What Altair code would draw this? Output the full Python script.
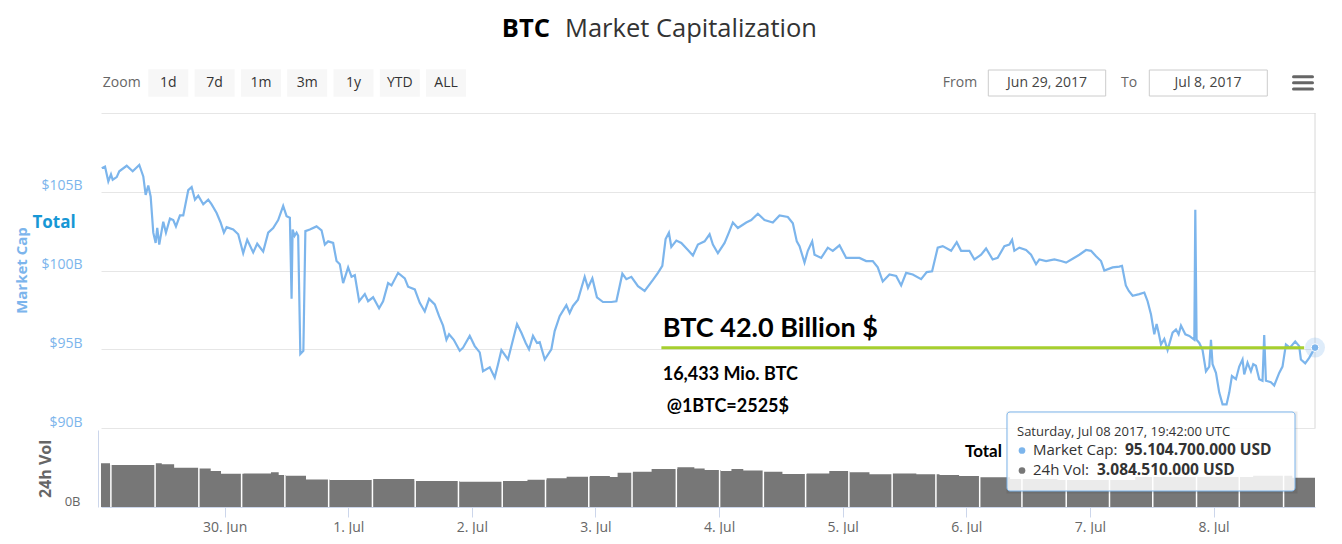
import altair as alt
import pandas as pd

START = pd.Timestamp("2017-06-29 00:00:00")

# ---- market cap series (hours since 29 Jun 00:00, value in $B) ----
mc_hours = [0.14, 0.78, 1.42, 1.94, 2.27, 3.05, 3.55, 4.99, 6.15, 7.43, 8.21, 8.67, 9.18, 9.64, 10.15,
            10.61, 10.92, 11.31, 12.09, 12.61, 13.39, 14.03, 14.55, 15.33, 15.97, 16.94, 17.6, 18.24,
            18.88, 19.85, 20.82, 21.48, 22.45, 23.22, 23.86, 24.39, 25.67, 26.64, 27.61, 28.39, 29.55,
            30.33, 31.49, 32.46, 33.43, 34.4, 35.37, 36.03, 36.67, 37.0, 37.2, 37.58, 37.97, 38.28,
            38.7, 39.29, 39.68, 40.55, 41.85, 42.82, 43.46, 44.1, 45.07, 45.73, 46.37, 47.01, 47.98,
            48.64, 49.28, 50.12, 51.22, 51.86, 52.83, 53.99, 54.77, 55.74, 56.4, 57.68, 58.98, 59.62,
            60.92, 61.89, 62.86, 63.7, 64.8, 65.64, 66.41, 67.07, 67.58, 68.49, 69.65, 70.29, 71.59,
            72.56, 73.53, 74.17, 75.47, 76.44, 77.09, 77.74, 79.02, 79.99, 80.77, 81.62, 82.46, 83.1,
            83.87, 84.65, 85.18, 86.15, 87.44, 88.08, 89.05, 90.35, 90.99, 91.63, 92.61, 93.91, 94.55,
            95.4, 96.29, 97.46, 99.09, 100.06, 101.22, 102.0, 102.97, 104.25, 105.55, 107.16, 108.13,
            108.98, 109.62, 110.26, 110.73, 111.7, 112.67, 113.95, 114.92, 115.89, 117.19, 118.16,
            118.8, 119.77, 121.07, 121.9, 122.68, 123.65, 125.28, 126.25, 127.53, 128.83, 130.44,
            131.74, 133.35, 134.32, 135.09, 135.62, 136.59, 137.23, 138.08, 138.53, 139.83, 141.11,
            142.08, 143.38, 144.68, 145.96, 147.26, 148.56, 149.84, 150.81, 151.78, 153.08, 154.38,
            155.35, 156.32, 157.6, 159.23, 160.32, 161.36, 162.45, 163.42, 165.05, 166.14, 166.99,
            168.6, 169.57, 170.87, 171.84, 173.12, 174.09, 175.39, 176.36, 176.89, 177.33, 178.3,
            179.6, 180.57, 181.54, 182.19, 183.49, 185.1, 186.4, 187.37, 188.65, 189.95, 191.25,
            192.22, 193.19, 194.16, 194.8, 196.41, 197.71, 198.23, 198.97, 199.55, 200.29, 201.59,
            202.56, 203.2, 203.86, 204.5, 204.95, 205.34, 205.8, 206.44, 207.08, 208.05, 208.71,
            209.22, 209.68, 210.52, 211.3, 212.27, 212.46, 212.71, 213.23, 213.87, 214.53, 215.17,
            215.5, 215.81, 216.47, 217.11, 217.75, 218.53, 219.05, 219.57, 220.35, 220.99, 221.63,
            221.96, 222.6, 223.26, 223.71, 224.23, 224.87, 225.51, 225.84, 226.17, 227.14, 227.78,
            228.75, 229.39, 230.05, 230.83, 231.86, 232.63, 232.96, 233.8, 234.57, 235.7]
mc_values = [106.5, 106.6, 105.65, 106.1, 105.76, 105.93, 106.3, 106.65, 106.3, 106.7, 105.97, 104.8,
             105.4, 104.7, 102.4, 101.75, 102.7, 101.65, 103.1, 102.4, 103.3, 103.2, 102.8, 103.5,
             103.5, 105.1, 105.3, 104.5, 104.75, 104.2, 104.5, 104.2, 103.65, 103.05, 102.4, 102.75,
             102.6, 102.3, 101.1, 101.95, 101.15, 101.7, 101.2, 102.4, 102.7, 103.2, 104.1, 103.45,
             103.35, 98.2, 102.6, 102.2, 102.4, 102.2, 94.7, 94.9, 102.5, 102.6, 102.8, 102.55,
             101.65, 101.85, 101.75, 100.6, 100.4, 99.2, 100.2, 99.6, 99.7, 98.05, 98.5, 98.05, 98.3,
             97.6, 98.05, 99.2, 99.05, 99.85, 99.5, 98.97, 98.8, 97.95, 97.4, 98.2, 97.85, 97.1, 96.5,
             95.6, 95.95, 95.6, 94.9, 95.1, 95.85, 95.2, 94.8, 93.6, 93.85, 93.2, 94.05, 94.95, 94.35,
             95.6, 96.6, 96.05, 95.4, 95.0, 95.85, 95.4, 95.45, 94.35, 95.0, 96.15, 97.1, 97.8, 97.3,
             97.75, 98.15, 99.6, 98.9, 99.5, 98.3, 98.0, 98.0, 98.05, 99.8, 99.45, 99.6, 99.0, 98.7,
             99.4, 99.85, 100.3, 102.0, 102.4, 101.5, 101.9, 101.75, 101.3, 100.95, 101.65, 101.85,
             102.3, 101.65, 101.1, 101.75, 102.4, 103.05, 102.7, 103.05, 103.2, 103.6, 103.2, 103.05,
             103.5, 103.4, 103.0, 101.85, 101.55, 100.5, 101.25, 101.85, 101.0, 100.8, 101.45, 101.25,
             101.6, 100.8, 100.8, 100.8, 100.6, 100.6, 100.2, 99.3, 99.75, 99.65, 99.05, 99.85, 99.75,
             99.45, 99.9, 99.95, 101.45, 101.55, 101.25, 101.8, 101.25, 101.25, 100.7, 101.0, 101.4,
             100.7, 100.8, 101.55, 101.65, 101.95, 101.25, 101.45, 101.3, 101.0, 100.4, 100.7, 100.6,
             100.7, 100.6, 100.5, 100.75, 101.0, 101.3, 101.25, 100.9, 100.6, 100.0, 100.2, 100.25,
             100.3, 99.05, 98.7, 98.4, 98.5, 98.6, 98.05, 97.2, 95.95, 96.6, 96.05, 95.3, 95.65, 94.95,
             96.05, 96.25, 95.95, 96.5, 95.95, 95.85, 95.6, 103.85, 95.6, 95.4, 94.95, 93.6, 93.9, 95.6,
             94.05, 93.5, 92.25, 91.5, 91.5, 92.25, 93.3, 93.1, 93.9, 94.35, 93.4, 94.15, 93.6, 94.05,
             93.95, 93.1, 93.0, 95.9, 93.0, 92.9, 92.7, 93.5, 93.9, 95.3, 95.1, 95.5, 95.2, 94.35, 94.1,
             94.45, 95.1047]

# ---- 24h volume (step profile, $B) ----
vol_hours = [0.0, 1.75, 10.5, 11.8, 14.2, 19.0, 21.3, 23.3, 27.7, 33.0, 34.5, 35.9, 39.8, 44.4, 52.6,
             60.9, 69.6, 78.0, 82.8, 86.5, 90.4, 94.9, 98.8, 100.3, 103.2, 106.9, 111.9, 115.2, 117.2,
             120.3, 122.4, 124.7, 128.6, 132.3, 137.0, 141.4, 145.3, 149.2, 153.6, 158.3, 162.8, 166.6,
             170.5, 176.5, 185.7, 200.8, 223.7, 231.3, 235.7]
vol_values = [4.65, 4.47, 4.65, 4.54, 4.18, 4.11, 3.83, 3.55, 3.58, 3.69, 3.40, 3.33, 2.94, 2.87, 2.98,
              2.77, 2.70, 2.77, 2.91, 3.05, 3.23, 3.30, 3.19, 3.65, 3.76, 4.04, 4.22, 4.11, 3.94, 3.83,
              4.04, 3.90, 3.76, 3.51, 3.58, 3.83, 3.69, 3.48, 3.58, 3.48, 3.40, 3.30, 3.16, 2.98, 2.87,
              3.19, 3.33, 3.12, 3.0845]
# column gaps in the volume panel
sep_hours = [1.92, 10.5, 19.0, 27.3, 35.7, 44.2, 52.7, 61.0, 69.4, 77.9, 86.3, 94.7, 103.1, 111.7,
             120.1, 128.6, 136.8, 145.2, 153.6, 162.1, 170.6, 178.8, 187.4, 195.8, 204.2, 212.7, 221.0,
             229.6]

# annotation line (current market cap)
green_hours = [108.8, 233.6]
green_value = 95.1

tick_days = [(6, 30), (7, 1), (7, 2), (7, 3), (7, 4), (7, 5), (7, 6), (7, 7), (7, 8)]
zoom_buttons = ["1d", "7d", "1m", "3m", "1y", "YTD", "ALL"]


def ts(hours):
    return [(START + pd.Timedelta(hours=h)).strftime("%Y-%m-%dT%H:%M:%S") for h in hours]


mc_df = pd.DataFrame({"t": ts(mc_hours), "v": mc_values})
vol_df = pd.DataFrame({"t": ts(vol_hours), "v": vol_values})
sep_df = pd.DataFrame({"t": ts(sep_hours)})
green_df = pd.DataFrame({"t1": ts([green_hours[0]]), "t2": ts([green_hours[1]]), "v": [green_value]})
last_df = mc_df.tail(1)
one = pd.DataFrame({"a": [0]})

W, H1, H2 = 1214, 315, 77
LINE = "#7cb5ec"
UI_FONT = "Open Sans"
ANN_FONT = "Lato"

xscale = alt.Scale(domain=[alt.DateTime(year=2017, month=6, date=29, hours=0, minutes=0),
                           alt.DateTime(year=2017, month=7, date=8, hours=19, minutes=42)])


def txt(s, x, y, size=14, color="#333333", weight="normal", align="left",
        baseline="middle", font=UI_FONT):
    return alt.Chart(one).mark_text(text=s, fontSize=size, color=color, fontWeight=weight,
                                    align=align, baseline=baseline, font=font).encode(
        x=alt.value(x), y=alt.value(y))


def box(x1, x2, y1, y2, fill, stroke=None, **kw):
    params = dict(fill=fill, **kw)
    if stroke:
        params["stroke"] = stroke
    return alt.Chart(one).mark_rect(**params).encode(
        x=alt.value(x1), x2=alt.value(x2), y=alt.value(y1), y2=alt.value(y2))


# ---------------- top panel ----------------
line = alt.Chart(mc_df).mark_line(color=LINE, strokeWidth=2.2, interpolate="linear").encode(
    x=alt.X("t:T", scale=xscale, axis=None),
    y=alt.Y("v:Q", scale=alt.Scale(domain=[90, 110], nice=False, zero=False),
            axis=alt.Axis(values=[90, 95, 100, 105, 110], grid=True, gridColor="#e6e6e6",
                          domain=False, ticks=False, labelPadding=19,
                          labelExpr="datum.value == 110 ? '' : '$' + datum.value + 'B'",
                          labelColor=LINE, labelFontSize=14, labelFont=UI_FONT,
                          labelBaseline="alphabetic", labelOffset=-2,
                          title="Market Cap", titleColor=LINE, titleFontSize=15,
                          titleFontWeight="bold", titleFont=UI_FONT, titleAngle=270,
                          titleX=-72, titleY=157, titleAlign="center", titleBaseline="bottom")),
)

green = alt.Chart(green_df).mark_rule(color="#a6cf2e", strokeWidth=3).encode(
    x=alt.X("t1:T", scale=xscale), x2="t2:T", y="v:Q")

halo = alt.Chart(last_df).mark_point(filled=True, size=400, color=LINE, opacity=0.25).encode(
    x=alt.X("t:T", scale=xscale), y="v:Q")
dot = alt.Chart(last_df).mark_point(filled=True, size=60, color=LINE, opacity=1,
                                    stroke="white", strokeWidth=1).encode(
    x=alt.X("t:T", scale=xscale), y="v:Q")

right_border = alt.Chart(one).mark_rule(color="#d8d8d8").encode(
    x=alt.value(W), y=alt.value(0), y2=alt.value(H1))

# white anchor fixing the top-left corner of the layout
anchor = box(-93, -92, -105, -104, "#ffffff")

top_layers = [anchor, right_border, line, green, halo, dot]

# title
top_layers.append(txt("BTC", 449, -76, size=25.5, color="#000000", weight="bold",
                      align="right", baseline="alphabetic"))
top_layers.append(txt("Market Capitalization", 464, -76, size=25.5, color="#333333",
                      baseline="alphabetic"))

# range selector
top_layers.append(txt("Zoom", 20.7, -30.3, size=14, color="#666666", align="center"))
for i, lab in enumerate(zoom_buttons):
    x0 = 47.3 + i * 46.3
    top_layers.append(box(x0, x0 + 40, -43.7, -16.3, "#f7f7f7"))
    top_layers.append(txt(lab, x0 + 20, -30.3, size=14, color="#333333", align="center"))

top_layers.append(txt("From", 859, -30.3, size=14, color="#666666", align="center"))
top_layers.append(box(887.3, 1004.7, -43, -17, "#ffffff", stroke="#cccccc"))
top_layers.append(txt("Jun 29, 2017", 946, -30.3, size=14, color="#444444", align="center"))
top_layers.append(txt("To", 1028, -30.3, size=14, color="#666666", align="center"))
top_layers.append(box(1048.3, 1166.3, -43, -17, "#ffffff", stroke="#cccccc"))
top_layers.append(txt("Jul 8, 2017", 1107, -30.3, size=14, color="#444444", align="center"))
for yy in [-36.3, -30.3, -23.9]:
    top_layers.append(alt.Chart(one).mark_rule(color="#666666", strokeWidth=3, strokeCap="round").encode(
        x=alt.value(1192.5), x2=alt.value(1211.5), y=alt.value(yy)))

# annotations
top_layers.append(txt("Total", -47, 110, size=17, color="#1797d5", weight="bold", align="center"))
top_layers.append(txt("BTC 42.0 Billion $", 561.7, 224, size=27, color="#000000", weight="bold",
                      baseline="alphabetic", font=ANN_FONT))
top_layers.append(txt("16,433 Mio. BTC", 561.7, 267, size=18, color="#000000", weight="bold",
                      baseline="alphabetic", font=ANN_FONT))
top_layers.append(txt("@1BTC=2525$", 565.7, 299, size=18, color="#000000", weight="bold",
                      baseline="alphabetic", font=ANN_FONT))

top = alt.layer(*top_layers).properties(width=W, height=H1)

# ---------------- volume panel ----------------
area = alt.Chart(vol_df).mark_area(color="#777777", interpolate="step-after", opacity=1).encode(
    x=alt.X("t:T", scale=xscale,
            axis=alt.Axis(values=[alt.DateTime(year=2017, month=m, date=d) for m, d in tick_days],
                          format="%-d. %b", grid=False, domainColor="#ccd6eb", tickColor="#ccd6eb",
                          tickSize=10, labelColor="#666666", labelFontSize=14, labelFont=UI_FONT,
                          labelPadding=3, title=None)),
    y=alt.Y("v:Q", scale=alt.Scale(domain=[0, 8.2], nice=False),
            axis=alt.Axis(values=[0], labelExpr="datum.value + 'B'", grid=False, ticks=False,
                          domain=True, domainColor="#ccd6eb", offset=3, labelPadding=18,
                          labelColor="#666666", labelFontSize=13, labelFont=UI_FONT,
                          labelBaseline="alphabetic", labelOffset=-2,
                          title="24h Vol", titleColor="#666666", titleFontSize=16,
                          titleFontWeight="bold", titleFont=UI_FONT, titleAngle=270,
                          titleX=-45, titleY=38.5, titleAlign="center", titleBaseline="bottom")),
)

seps = alt.Chart(sep_df).mark_rule(color="#ffffff", strokeWidth=1.5).encode(
    x=alt.X("t:T", scale=xscale), y=alt.value(0), y2=alt.value(H2))

vol_layers = [area, seps]
vol_layers.append(txt("Total", 864, 22, size=17, color="#000000", weight="bold", font=ANN_FONT))

# tooltip
vol_layers.append(box(907, 1195, -17, 62, "#000000", fillOpacity=0.0, stroke="#000000",
                      strokeOpacity=0.08, strokeWidth=3))
vol_layers.append(box(906, 1194, -18, 61, "#ffffff", stroke=LINE, fillOpacity=0.85,
                      strokeWidth=1, cornerRadius=3))
vol_layers.append(txt("Saturday, Jul 08 2017, 19:42:00 UTC", 916, 1.5, size=13, color="#333333"))
vol_layers.append(alt.Chart(one).mark_point(filled=True, size=45, color=LINE, opacity=1).encode(
    x=alt.value(921), y=alt.value(20.5)))
vol_layers.append(txt("Market Cap:", 932, 20, size=15, color="#333333"))
vol_layers.append(txt("95.104.700.000 USD", 1024, 20, size=15.5, color="#333333", weight="bold"))
vol_layers.append(alt.Chart(one).mark_point(filled=True, size=45, color="#777777", opacity=1).encode(
    x=alt.value(921), y=alt.value(40.5)))
vol_layers.append(txt("24h Vol:", 932, 40, size=15, color="#333333"))
vol_layers.append(txt("3.084.510.000 USD", 996, 40, size=15.5, color="#333333", weight="bold"))

vol = alt.layer(*vol_layers).properties(width=W, height=H2)

chart = alt.vconcat(top, vol, spacing=2, bounds="flush").properties(
    padding=0,
).configure_view(stroke=None)

chart.save("out.html", embed_options={"renderer": "svg", "actions": False})
